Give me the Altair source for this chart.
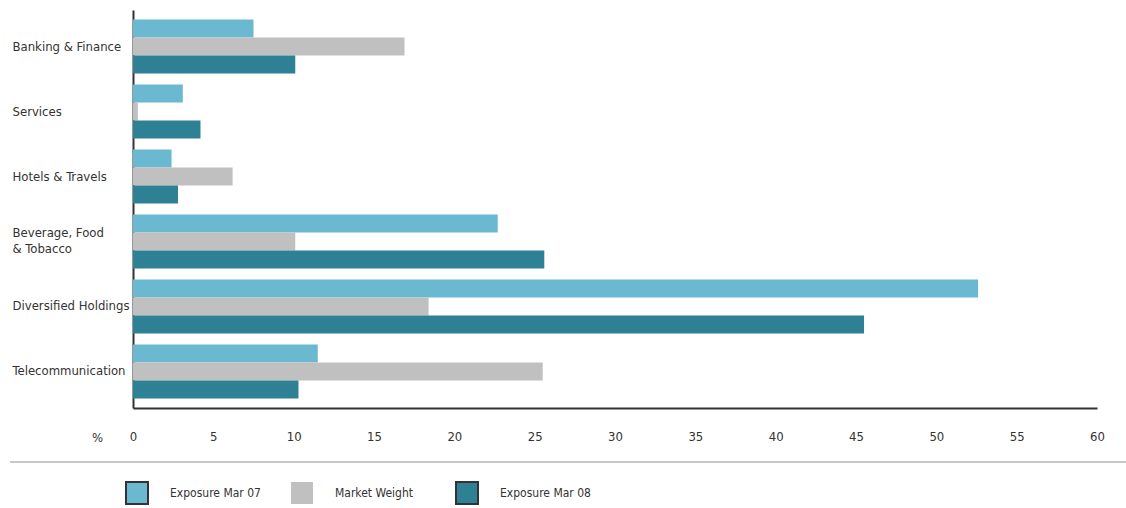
import altair as alt
import pandas as pd

categories = ["Banking & Finance", "Services", "Hotels & Travels",
              "Beverage, Food & Tobacco", "Diversified Holdings", "Telecommunication"]
series = ["Exposure Mar 07", "Market Weight", "Exposure Mar 08"]
exposure_mar07 = [7.5, 3.1, 2.4, 22.7, 52.6, 11.5]
market_weight = [16.9, 0.3, 6.2, 10.1, 18.4, 25.5]
exposure_mar08 = [10.1, 4.2, 2.8, 25.6, 45.5, 10.3]
colors = ["#6BB9D0", "#C0C0C0", "#2E8194"]
legend_strokes = ["#333333", "transparent", "#333333"]
x_ticks = list(range(0, 61, 5))

rows = []
for s, vals in zip(series, [exposure_mar07, market_weight, exposure_mar08]):
    for c, v in zip(categories, vals):
        rows.append({"category": c, "series": s, "value": v})
df = pd.DataFrame(rows)

FONT = "'Liberation Sans Narrow', 'DejaVu Sans Condensed', sans-serif"

leg = alt.Legend(title=None, orient="none", legendX=-8, legendY=471,
                 direction="horizontal", symbolType="square",
                 symbolSize=484, symbolStrokeWidth=2,
                 labelOffset=21, columnPadding=26, gridAlign="all",
                 labelFontSize=12, labelColor="#333", labelFont=FONT)

bars = alt.Chart(df).mark_bar(strokeWidth=0).encode(
    x=alt.X("value:Q",
            scale=alt.Scale(domain=[0, 60], nice=False),
            axis=alt.Axis(values=x_ticks, title="%", titleAngle=0, titleX=-36, titleY=29,
                          titleAlign="center", titleBaseline="middle", titleFontWeight="normal",
                          titleFontSize=13, titleColor="#333", titleFont=FONT,
                          grid=False, ticks=False, labelPadding=22, labelFontSize=13,
                          labelColor="#333", labelFont=FONT, domainColor="#333",
                          domainWidth=2, labelFlush=False)),
    y=alt.Y("category:N", sort=categories,
            scale=alt.Scale(paddingInner=0.17, paddingOuter=0.147),
            axis=alt.Axis(title=None, ticks=False, labelAlign="left", labelPadding=121,
                          labelFontSize=13, labelColor="#333", labelFont=FONT,
                          labelBaseline="middle", labelLineHeight=16,
                          labelOffset={"condition": {"test": "datum.value == 'Beverage, Food & Tobacco'",
                                                     "value": -8}, "value": 0},
                          labelExpr="datum.value == 'Beverage, Food & Tobacco' ? ['Beverage, Food', '& Tobacco'] : datum.value",
                          domainColor="#333", domainWidth=2, labelLimit=200)),
    yOffset=alt.YOffset("series:N", sort=series),
    color=alt.Color("series:N", sort=series,
                    scale=alt.Scale(domain=series, range=colors), legend=leg),
    stroke=alt.Stroke("series:N", sort=series,
                      scale=alt.Scale(domain=series, range=legend_strokes), legend=leg),
)

sep = alt.Chart(alt.Data(values=[{}])).mark_rule(color="#c8c8c8", strokeWidth=2).encode(
    x=alt.value(-123), x2=alt.value(993), y=alt.value(452)
)

chart = alt.layer(bars, sep).properties(
    width=964, height=398,
    autosize=alt.AutoSizeParams(type="none"),
    padding={"left": 133, "top": 10, "right": 29, "bottom": 100},
    background="white",
).configure_view(stroke=None)

chart.save("out.html", embed_options={"renderer": "svg", "actions": False})
